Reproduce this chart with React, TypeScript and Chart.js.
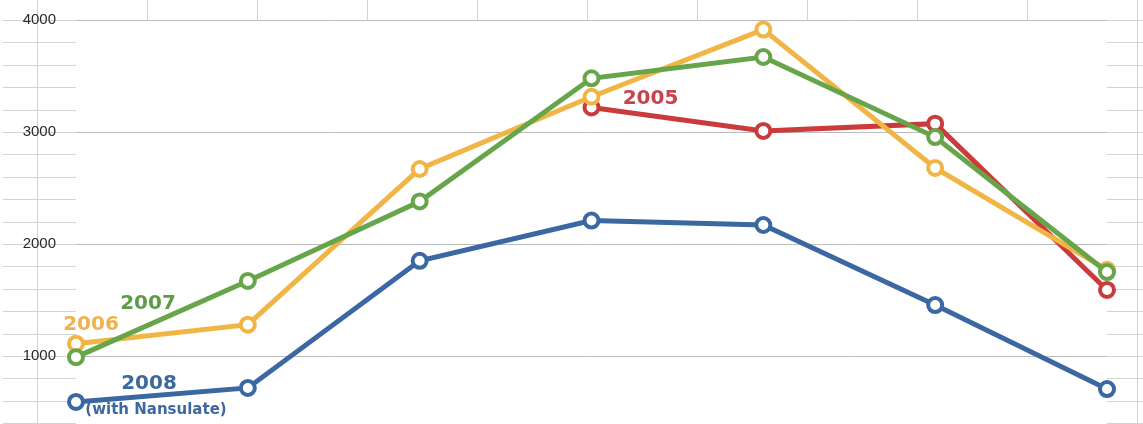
import React, { useEffect, useRef } from "react";
import { Chart, registerables } from "chart.js";

Chart.register(...registerables);

const categories = ["1", "2", "3", "4", "5", "6", "7"];
const series2005 = [null, null, null, 3220, 3010, 3075, 1590];
const series2006 = [1110, 1280, 2670, 3315, 3915, 2680, 1770];
const series2007 = [990, 1670, 2380, 3480, 3670, 2955, 1750];
const series2008 = [590, 715, 1850, 2210, 2170, 1455, 705];
const yTicks = [1000, 2000, 3000, 4000];
const rowStep = 200;

const RED = "#cc3b3b";
const ORANGE = "#f1b545";
const GREEN = "#67a54a";
const BLUE = "#3b67a2";

const sheetPlugin = {
  id: "sheet",
  beforeDraw(chart: any) {
    const { ctx, chartArea, scales, width, height } = chart;
    const y = scales.y;
    ctx.save();
    ctx.fillStyle = "#ffffff";
    ctx.fillRect(0, 0, width, height);
    ctx.strokeStyle = "#d4d4d4";
    ctx.lineWidth = 1;
    for (let v = Math.ceil(y.min / rowStep) * rowStep; v <= y.max; v += rowStep) {
      const py = Math.round(y.getPixelForValue(v)) + 0.5;
      ctx.beginPath();
      ctx.moveTo(3, py);
      ctx.lineTo(chartArea.left, py);
      ctx.moveTo(chartArea.right, py);
      ctx.lineTo(width, py);
      ctx.stroke();
    }
    const top = Math.round(y.getPixelForValue(yTicks[yTicks.length - 1]));
    const start = chartArea.left - 39;
    for (let x = start; x < width; x += 110) {
      const px = Math.round(x) + 0.5;
      ctx.beginPath();
      ctx.moveTo(px, 0);
      if (x < chartArea.left || x > chartArea.right) ctx.lineTo(px, height);
      else ctx.lineTo(px, top);
      ctx.stroke();
    }
    ctx.restore();
  },
};

const labelPlugin = {
  id: "seriesLabels",
  afterDatasetsDraw(chart: any) {
    const { ctx } = chart;
    const items = [
      { text: "2005", ds: 2, idx: 3, dx: 59, dy: -9, color: "#c9434a", font: "bold 20px 'DejaVu Sans'" },
      { text: "2006", ds: 1, idx: 0, dx: 15, dy: -19, color: "#f0b250", font: "bold 20px 'DejaVu Sans'" },
      { text: "2007", ds: 0, idx: 0, dx: 72, dy: -53, color: "#5f9c48", font: "bold 20px 'DejaVu Sans'" },
      { text: "2008", ds: 3, idx: 0, dx: 73, dy: -18, color: "#3d68a0", font: "bold 20px 'DejaVu Sans'" },
      { text: "(with Nansulate)", ds: 3, idx: 0, dx: 80, dy: 8, color: "#3d68a0", font: "bold 15px 'DejaVu Sans'" },
    ];
    ctx.save();
    ctx.textAlign = "center";
    ctx.textBaseline = "middle";
    for (const it of items) {
      const el = chart.getDatasetMeta(it.ds).data[it.idx];
      ctx.font = it.font;
      ctx.fillStyle = it.color;
      ctx.fillText(it.text, el.x + it.dx, el.y + it.dy);
    }
    ctx.restore();
  },
};

function ds(label: string, data: (number | null)[], color: string) {
  return {
    label,
    data,
    borderColor: color,
    backgroundColor: color,
    borderWidth: 5,
    pointRadius: 7,
    pointBorderWidth: 4,
    pointBackgroundColor: "#ffffff",
    pointBorderColor: color,
    tension: 0,
  };
}

export default function App() {
  const ref = useRef<HTMLCanvasElement | null>(null);
  useEffect(() => {
    if (!ref.current) return;
    const chart = new Chart(ref.current, {
      type: "line",
      data: {
        labels: categories,
        datasets: [
          ds("2007", series2007, GREEN),
          ds("2006", series2006, ORANGE),
          ds("2005", series2005, RED),
          ds("2008", series2008, BLUE),
        ],
      },
      options: {
        responsive: false,
        animation: false,
        layout: { autoPadding: false, padding: { left: 0, right: 36, top: 0, bottom: 0 } },
        plugins: { legend: { display: false }, tooltip: { enabled: false } },
        scales: {
          x: { display: false, offset: false },
          y: {
            min: 393,
            max: 4179,
            afterBuildTicks: (s: any) => {
              s.ticks = yTicks.map((v) => ({ value: v }));
            },
            afterFit: (s: any) => {
              s.width = 76;
              s.paddingTop = 0;
              s.paddingBottom = 0;
            },
            border: { display: false },
            grid: { color: "#bdbdbd", lineWidth: 1, drawTicks: false },
            ticks: {
              padding: 20,
              color: "#2a2a2a",
              font: { family: "'Liberation Sans', Arial", size: 15 },
              callback: (v: any) => String(v),
            },
          },
        },
      },
      plugins: [sheetPlugin, labelPlugin],
    });
    return () => chart.destroy();
  }, []);
  return (
    <div style={{ position: "absolute", left: 0, top: 0, width: 1143, height: 424 }}>
      <canvas ref={ref} width={1143} height={424} style={{ display: "block" }} />
    </div>
  );
}
